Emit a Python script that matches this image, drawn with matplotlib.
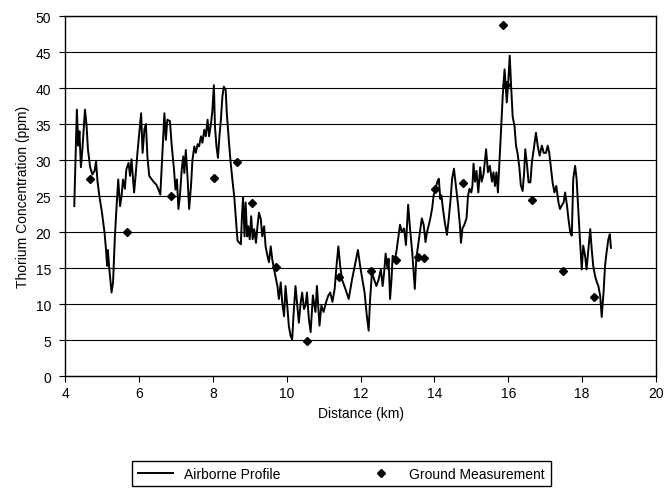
import matplotlib
matplotlib.use("Agg")
import matplotlib.pyplot as plt

plt.rcParams["font.family"] = ["Liberation Sans", "DejaVu Sans"]

# airborne thorium profile (km, ppm)
dist = [4.25, 4.32, 4.36, 4.39, 4.43, 4.47, 4.54, 4.58, 4.62, 4.68, 4.74, 4.80, 4.84, 4.88,
        4.93, 5.00, 5.07, 5.11, 5.14, 5.16, 5.20, 5.26, 5.30, 5.35, 5.40, 5.44, 5.49, 5.53,
        5.57, 5.62, 5.66, 5.72, 5.76, 5.80, 5.87, 5.91, 5.96, 6.02, 6.06, 6.10, 6.15, 6.19,
        6.23, 6.28, 6.35, 6.41, 6.47, 6.53, 6.58, 6.62, 6.66, 6.69, 6.73, 6.77, 6.84, 6.89,
        6.95, 6.99, 7.03, 7.07, 7.11, 7.16, 7.20, 7.23, 7.27, 7.32, 7.36, 7.41, 7.45, 7.50,
        7.54, 7.59, 7.63, 7.68, 7.72, 7.77, 7.81, 7.86, 7.90, 7.95, 7.99, 8.03, 8.06, 8.10,
        8.14, 8.18, 8.22, 8.26, 8.30, 8.35, 8.38, 8.44, 8.48, 8.53, 8.58, 8.62, 8.67, 8.72,
        8.76, 8.79, 8.82, 8.86, 8.89, 8.93, 8.96, 9.00, 9.04, 9.08, 9.12, 9.17, 9.21, 9.25,
        9.30, 9.34, 9.39, 9.43, 9.48, 9.52, 9.57, 9.61, 9.66, 9.70, 9.75, 9.79, 9.84, 9.88,
        9.93, 9.97, 10.01, 10.06, 10.11, 10.15, 10.19, 10.24, 10.28, 10.33, 10.38, 10.42,
        10.47, 10.51, 10.55, 10.60, 10.65, 10.71, 10.78, 10.82, 10.89, 10.94, 11.00, 11.07,
        11.13, 11.18, 11.24, 11.30, 11.35, 11.40, 11.45, 11.50, 11.59, 11.68, 11.77, 11.86,
        11.93, 11.99, 12.05, 12.11, 12.17, 12.22, 12.26, 12.31, 12.37, 12.43, 12.49, 12.55,
        12.60, 12.64, 12.68, 12.73, 12.76, 12.80, 12.84, 12.87, 12.93, 12.97, 13.02, 13.07,
        13.12, 13.18, 13.23, 13.29, 13.34, 13.40, 13.44, 13.47, 13.51, 13.56, 13.61, 13.66,
        13.71, 13.76, 13.80, 13.85, 13.89, 13.94, 13.98, 14.03, 14.08, 14.12, 14.16, 14.19,
        14.23, 14.28, 14.34, 14.39, 14.44, 14.48, 14.53, 14.58, 14.64, 14.69, 14.72, 14.76,
        14.81, 14.87, 14.91, 14.95, 15.00, 15.03, 15.06, 15.10, 15.14, 15.19, 15.24, 15.28,
        15.33, 15.40, 15.45, 15.50, 15.56, 15.60, 15.64, 15.68, 15.72, 15.76, 15.81, 15.85,
        15.90, 15.93, 15.96, 16.00, 16.04, 16.08, 16.12, 16.17, 16.21, 16.25, 16.30, 16.34,
        16.39, 16.43, 16.46, 16.51, 16.55, 16.60, 16.64, 16.69, 16.75, 16.80, 16.85, 16.91,
        16.96, 17.02, 17.07, 17.11, 17.15, 17.20, 17.25, 17.30, 17.36, 17.40, 17.45, 17.50,
        17.54, 17.59, 17.63, 17.68, 17.72, 17.76, 17.81, 17.85, 17.90, 17.94, 17.99, 18.03,
        18.08, 18.12, 18.17, 18.22, 18.26, 18.30, 18.35, 18.40, 18.44, 18.49, 18.53, 18.58,
        18.62, 18.66, 18.71, 18.75, 18.78]
thorium = [23.6, 37.0, 32.0, 34.0, 29.0, 31.5, 37.0, 35.0, 31.5, 29.0, 28.0, 28.5, 29.8, 27.0,
           25.0, 22.7, 19.9, 17.5, 15.3, 17.5, 14.8, 11.6, 13.0, 19.4, 24.0, 27.3, 23.6, 25.0,
           27.3, 26.0, 28.7, 29.6, 27.8, 30.1, 25.5, 27.8, 31.0, 34.3, 36.5, 31.0, 34.3, 35.0,
           30.5, 27.8, 27.3, 26.9, 26.6, 25.9, 25.2, 29.2, 33.3, 36.5, 32.8, 35.6, 35.4, 31.9,
           28.7, 25.9, 27.3, 23.2, 25.0, 28.7, 30.5, 28.2, 31.4, 27.3, 23.2, 26.4, 30.0, 31.9,
           31.0, 32.2, 31.9, 33.3, 32.4, 34.2, 33.3, 35.6, 33.3, 35.0, 36.9, 40.4, 34.6, 31.9,
           30.3, 33.3, 35.6, 38.8, 40.2, 39.7, 36.5, 32.4, 29.9, 27.3, 25.0, 22.2, 18.8, 18.5,
           18.3, 22.2, 24.8, 19.4, 24.1, 19.4, 20.8, 19.0, 22.2, 19.0, 20.4, 18.5, 20.8, 22.7,
           21.8, 19.4, 20.8, 18.0, 16.7, 15.8, 18.0, 16.2, 14.8, 13.8, 12.5, 10.7, 13.0, 10.2,
           8.3, 12.5, 10.2, 6.9, 5.5, 5.1, 8.8, 12.5, 10.2, 7.4, 10.2, 11.6,
           9.3, 9.8, 11.6, 8.0, 6.1, 11.2, 8.9, 12.5, 7.0, 9.8, 8.9, 10.3,
           11.2, 11.6, 10.3, 12.1, 15.3, 18.0, 15.3, 13.4, 12.1, 10.7, 13.4, 15.7,
           17.5, 15.3, 13.4, 11.6, 8.4, 6.3, 10.7, 14.4, 13.4, 12.5, 13.4, 14.8,
           12.5, 14.4, 17.0, 14.9, 16.3, 10.7, 13.5, 16.7, 16.3, 17.2, 19.1, 21.0,
           20.0, 20.5, 18.2, 23.8, 20.5, 17.2, 14.4, 12.1, 16.3, 18.2, 20.0, 21.9,
           21.0, 18.6, 20.0, 21.0, 21.9, 23.3, 25.1, 26.0, 27.0, 27.4, 24.6, 25.1,
           23.3, 21.4, 19.6, 21.9, 24.6, 27.4, 28.8, 26.5, 23.8, 21.0, 18.5, 20.5,
           21.0, 21.9, 25.0, 26.0, 25.5, 26.4, 29.5, 27.0, 28.5, 25.5, 29.0, 27.0,
           28.0, 31.5, 28.3, 29.2, 27.0, 28.3, 26.4, 28.3, 25.5, 29.5, 34.7, 38.9,
           42.6, 40.3, 38.0, 40.8, 44.5, 40.0, 36.0, 34.7, 32.0, 31.0, 29.0, 26.5,
           25.7, 28.3, 31.5, 29.2, 26.9, 26.9, 29.7, 31.5, 33.8, 31.9, 30.6, 32.0,
           31.0, 31.0, 32.0, 31.0, 29.2, 26.9, 25.5, 26.4, 24.1, 23.2, 23.7, 24.1,
           25.5, 23.7, 21.8, 19.9, 19.5, 27.4, 29.2, 27.4, 22.7, 19.0, 14.8, 18.1,
           16.7, 14.8, 17.6, 20.4, 17.6, 15.3, 13.9, 13.0, 12.5, 11.1, 8.2, 11.6,
           15.3, 17.1, 19.0, 19.7, 17.8]

# ground measurements
ground_dist = [4.68, 5.69, 6.86, 8.03, 8.65, 9.06, 9.70, 10.54, 11.43, 12.29, 12.95,
               13.55, 13.73, 14.03, 14.78, 15.86, 15.93, 16.64, 17.49, 18.33]
ground_th = [27.4, 20.0, 25.0, 27.5, 29.7, 24.0, 15.2, 4.9, 13.7, 14.6, 16.1,
             16.6, 16.4, 26.0, 26.8, 48.8, 40.4, 24.4, 14.6, 11.0]

fig = plt.figure(figsize=(6.67, 5.02), dpi=100)
ax = fig.add_axes([0.0975, 0.249, 0.886, 0.717])

ax.plot(dist, thorium, color="black", lw=1.4, label="Airborne Profile", zorder=3)
ax.plot(ground_dist, ground_th, ls="none", marker="D", ms=4.5, color="black",
        label="Ground Measurement", zorder=4)

ax.set_xlim(4, 20)
ax.set_ylim(0, 50)
ax.set_xticks(range(4, 21, 2))
ax.set_yticks(range(0, 51, 5))
ax.yaxis.grid(True, color="black", lw=0.8)
ax.set_axisbelow(True)
for s in ax.spines.values():
    s.set_color("black")
    s.set_linewidth(1.0)
ax.tick_params(direction="out", length=4, labelsize=10, color="black")
ax.tick_params(axis="y", pad=6)

ax.set_xlabel("Distance (km)", fontsize=10, labelpad=4)
ax.set_ylabel("Thorium Concentration (ppm)", fontsize=10, labelpad=4)

leg = fig.legend(loc="center", bbox_to_anchor=(0.512, 0.054), ncol=2, fontsize=10,
                 frameon=True, fancybox=False, edgecolor="black", framealpha=1,
                 handlelength=2.5, columnspacing=6, borderpad=0.4)
leg.get_frame().set_linewidth(1.0)

fig.savefig("out.png", dpi=100)
